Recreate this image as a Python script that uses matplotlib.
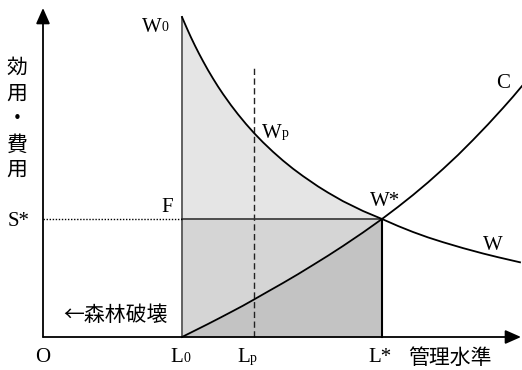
import matplotlib.pyplot as plt

plt.rcParams["font.family"] = ["Liberation Serif", "DejaVu Serif"]
CJK = ["Noto Sans CJK JP", "DejaVu Sans"]

# management level on x, utility / cost on y (arbitrary units)
L0, LP, LSTAR = 139, 211, 339
SSTAR = 118
LP_TOP = 270
W_X = [139, 142, 145, 148, 152, 156, 160, 165, 170, 175, 180, 188, 195, 203, 211, 220,
       230, 240, 250, 260, 275, 285, 300, 320, 339, 355, 370, 385, 400, 420, 440, 455, 477]
W_Y = [320, 313, 306.2, 299.6, 291.3, 283.4, 275.9, 266.9, 258.5, 250.5, 243, 231.8,
       222.7, 213, 204, 194.7, 185.2, 176.4, 168.3, 160.9, 150.6, 144.4, 135.8, 126,
       118, 111, 105, 99.6, 94.8, 88.9, 83.5, 79.8, 74.7]
C_X = [139, 150, 165, 178, 190, 200, 211, 225, 240, 255, 270, 285, 300, 320, 339,
       355, 370, 385, 400, 415, 430, 445, 460, 470, 479]
C_Y = [0, 5.5, 13, 19.7, 26, 31.3, 37.5, 45.5, 54, 62.8, 72, 81.3, 91, 104.5, 118,
       130.1, 142, 154.6, 168, 182, 197, 212.6, 229, 240.3, 251]

X_END, Y_END = 478, 329
YLABEL = list("効用・費用")

TOP_FILL = "#e5e5e5"
MID_FILL = "#d5d5d5"
LOW_FILL = "#c3c3c3"


def sub_label(ax, x, y, main, sub, ha="left", size=15):
    """A letter with a small index sitting on its baseline, as in W0 or Lp."""
    t = ax.text(x, y, main, ha=ha, va="center", fontsize=size)
    ax.annotate(sub, xy=(1, 0), xycoords=t, xytext=(0, 1.5), textcoords="offset points",
                ha="left", va="bottom", fontsize=10)
    return t


fig = plt.figure(figsize=(5.22, 3.70), dpi=100)
ax = fig.add_axes([0, 0, 1, 1])
ax.set_xlim(-43, 479)
ax.set_ylim(-33, 337)
ax.axis("off")

# shaded areas between L0 and L*
wx = [x for x in W_X if x <= LSTAR]
wy = W_Y[:len(wx)]
cx = [x for x in C_X if x <= LSTAR]
cy = C_Y[:len(cx)]
ax.fill_between(wx, wy, SSTAR, color=TOP_FILL, lw=0, zorder=1)
ax.fill_between(cx, cy, SSTAR, color=MID_FILL, lw=0, zorder=1)
ax.fill_between(cx, 0, cy, color=LOW_FILL, lw=0, zorder=1)

# axes with arrow heads
arrow = dict(arrowstyle="-|>,head_length=0.95,head_width=0.42", color="black",
             lw=1.3, shrinkA=0, shrinkB=0, mutation_scale=10)
ax.annotate("", xy=(0, Y_END), xytext=(0, 0), arrowprops=arrow, zorder=5)
ax.annotate("", xy=(X_END, 0), xytext=(0, 0), arrowprops=arrow, zorder=5)

# guide lines
ax.plot([L0, L0], [0, W_Y[0]], color="#555555", lw=1.3, zorder=3)
ax.plot([LP, LP], [0, LP_TOP], color="#222222", lw=1.0, ls=(0, (4.5, 2.5)), zorder=3)
ax.plot([LSTAR, LSTAR], [0, SSTAR], color="black", lw=1.5, zorder=3)
ax.plot([L0, LSTAR], [SSTAR, SSTAR], color="#333333", lw=1.2, zorder=3)
ax.plot([0, L0], [SSTAR, SSTAR], color="black", lw=1.0, ls=(0, (1, 1.2)), zorder=3)

# curves
ax.plot(W_X, W_Y, color="black", lw=1.3, zorder=4, solid_joinstyle="round")
ax.plot(C_X, C_Y, color="black", lw=1.3, zorder=4, solid_joinstyle="round")

# curve and point labels
sub_label(ax, 119, 310, "W", "0", ha="right")
sub_label(ax, 219, 204, "W", "p")
ax.text(342, 135, "W*", ha="center", va="center", fontsize=15)
ax.text(450, 92, "W", ha="center", va="center", fontsize=15)
ax.text(460, 254, "C", ha="center", va="center", fontsize=15)
ax.text(124, 129, "F", ha="center", va="center", fontsize=15)
ax.text(-24, 115, "S*", ha="center", va="center", fontsize=15)

# x axis labels
ax.text(0, -21, "O", ha="center", va="center", fontsize=15)
sub_label(ax, 140, -21, "L", "0", ha="right")
sub_label(ax, 207, -21, "L", "p", ha="right")
ax.text(337, -21, "L*", ha="center", va="center", fontsize=15)
ax.text(407, -21, "管理水準", ha="center", va="center", fontsize=15, family=CJK)
ax.text(72, 22, "←森林破壊", ha="center", va="center", fontsize=15, family=CJK)

# vertical y label, one character per line
for i, ch in enumerate(YLABEL):
    ax.text(-26, 269 - i * 25.5, ch, ha="center", va="center", fontsize=15, family=CJK)

fig.savefig("out.png", dpi=100)
